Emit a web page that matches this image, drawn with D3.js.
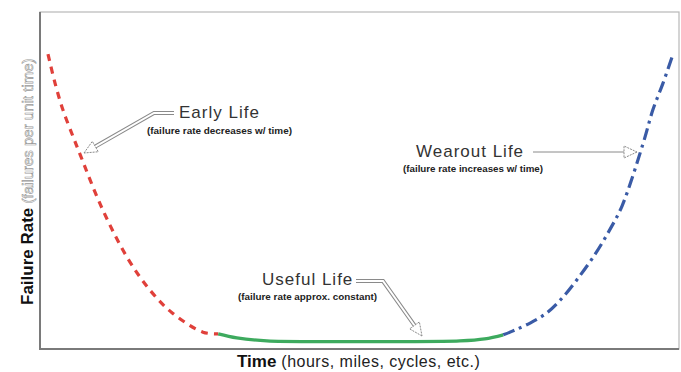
<!DOCTYPE html>
<html>
<head>
<meta charset="utf-8">
<script src="https://cdn.jsdelivr.net/npm/d3@7"></script>
<style>
  body { margin: 0; background: #fff; }
  svg { display: block; font-family: "Liberation Sans", Arial, sans-serif; }
</style>
</head>
<body>
<div id="chart"></div>
<script>
// bathtub curve, time and failure rate both on a 0-100 relative scale
const earlyTime  = [1.25, 2.35, 3.6, 5.2, 6.3, 9.7, 13.6, 17.2, 20.7, 25.5, 27.9];
const earlyRate  = [87.5, 78.9, 70.9, 62.9, 57.6, 41.8, 27.3, 17.5, 10.7, 5.0, 4.5];
const usefulTime = [27.9, 30.8, 35.5, 45.4, 56.3, 65.7, 69.6, 72.5];
const usefulRate = [4.5, 3.3, 2.4, 2.2, 2.2, 2.4, 3.0, 4.2];
const wearTime   = [72.5, 74.3, 76.7, 79.3, 81.7, 84.0, 86.9, 89.2, 91.1, 94.4, 95.9, 97.5, 98.9];
const wearRate   = [4.2, 5.6, 7.7, 10.7, 15.1, 20.5, 28.2, 35.5, 42.5, 61.1, 70.9, 78.9, 86.6];

const phaseNames = ['Early Life', 'Useful Life', 'Wearout Life'];
const phaseNotes = ['(failure rate decreases w/ time)', '(failure rate approx. constant)', '(failure rate increases w/ time)'];
const xTitle = ['Time', ' (hours, miles, cycles, etc.)'];
const yTitle = ['Failure Rate', ' (failures per unit time)'];

const width = 681, height = 372;
const margin = {top: 12, right: 2, bottom: 23, left: 40};

const svg = d3.select('#chart').append('svg')
    .attr('width', width)
    .attr('height', height);

const x = d3.scaleLinear().domain([0, 100]).range([margin.left, width - margin.right]);
const y = d3.scaleLinear().domain([0, 100]).range([height - margin.bottom, margin.top]);

// frame
svg.append('rect')
    .attr('x', x(0)).attr('y', y(100))
    .attr('width', x(100) - x(0)).attr('height', y(0) - y(100))
    .attr('fill', 'none')
    .attr('stroke', '#b8b8b8')
    .attr('stroke-width', 1.2);
svg.append('path')
    .attr('d', `M${x(0)},${y(100)}V${y(0)}H${x(100)}`)
    .attr('fill', 'none')
    .attr('stroke', '#7a7a7a')
    .attr('stroke-width', 2);

const line = d3.line()
    .x(d => x(d[0]))
    .y(d => y(d[1]))
    .curve(d3.curveCatmullRom.alpha(0.5));

const phases = [
    {t: earlyTime, r: earlyRate, color: '#e0403a', dash: '7,6'},
    {t: usefulTime, r: usefulRate, color: '#3daa5e', dash: null},
    {t: wearTime, r: wearRate, color: '#3a5ba6', dash: '12,5,3,5'}
];

phases.forEach(p => {
    svg.append('path')
        .datum(d3.zip(p.t, p.r))
        .attr('d', line)
        .attr('fill', 'none')
        .attr('stroke', p.color)
        .attr('stroke-width', 3.2)
        .attr('stroke-dasharray', p.dash);
});

// hollow arrows for the annotations
function arrowHead(tip, from, len, half) {
    const dx = tip[0] - from[0], dy = tip[1] - from[1];
    const d = Math.hypot(dx, dy), ux = dx / d, uy = dy / d;
    const bx = tip[0] - ux * len, by = tip[1] - uy * len;
    return [tip, [bx - uy * half, by + ux * half], [bx + uy * half, by - ux * half]];
}
function blockArrow(pts, doubleShaft) {
    const tip = pts[pts.length - 1], prev = pts[pts.length - 2];
    const head = arrowHead(tip, prev, 13, 6);
    const dx = tip[0] - prev[0], dy = tip[1] - prev[1], d = Math.hypot(dx, dy);
    const shaft = pts.slice(0, -1).concat([[tip[0] - dx / d * 12, tip[1] - dy / d * 12]]);
    const g = svg.append('g');
    g.append('path')
        .attr('d', d3.line()(shaft))
        .attr('fill', 'none')
        .attr('stroke', '#8a8a8a')
        .attr('stroke-width', doubleShaft ? 4 : 1);
    if (doubleShaft) {
        g.append('path')
            .attr('d', d3.line()(shaft))
            .attr('fill', 'none')
            .attr('stroke', '#fff')
            .attr('stroke-width', 2);
    }
    g.append('path')
        .attr('d', d3.line()(head) + 'Z')
        .attr('fill', '#fff')
        .attr('stroke', '#8a8a8a')
        .attr('stroke-width', 1)
        .attr('stroke-dasharray', '2,1');
}

blockArrow([[174, 113], [154, 113], [84, 153]], true);
blockArrow([[356, 281], [383, 281], [422, 336]], true);
blockArrow([[533, 152], [637, 152]], false);

const labels = [
    {x: 179, y: 118, nx: 147, ny: 134, nw: 145},
    {x: 262, y: 285, nx: 238, ny: 300, nw: 139},
    {x: 416, y: 157, nx: 403, ny: 172, nw: 140}
];
labels.forEach((l, i) => {
    svg.append('text')
        .attr('x', l.x).attr('y', l.y)
        .attr('font-size', 17)
        .attr('fill', '#333')
        .style('letter-spacing', '1px')
        .text(phaseNames[i]);
    svg.append('text')
        .attr('x', l.nx).attr('y', l.ny)
        .attr('font-size', 8.5)
        .attr('font-weight', 'bold')
        .attr('fill', '#222')
        .attr('textLength', l.nw)
        .attr('lengthAdjust', 'spacingAndGlyphs')
        .text(phaseNotes[i]);
});

// axis titles
const xt = svg.append('text')
    .attr('x', 237).attr('y', 367)
    .attr('fill', '#111');
xt.append('tspan').attr('font-weight', 'bold').attr('font-size', 17).text(xTitle[0]);
xt.append('tspan').attr('font-size', 16).attr('fill', '#222')
    .style('letter-spacing', '0.5px').text(xTitle[1]);

const yt = svg.append('text')
    .attr('transform', 'translate(33,305) rotate(-90)')
    .attr('fill', '#111');
yt.append('tspan').attr('font-weight', 'bold').attr('font-size', 17).text(yTitle[0]);
yt.append('tspan').attr('font-size', 15).attr('fill', '#fff')
    .attr('stroke', '#999').attr('stroke-width', 0.6).text(yTitle[1]);
</script>
</body>
</html>
